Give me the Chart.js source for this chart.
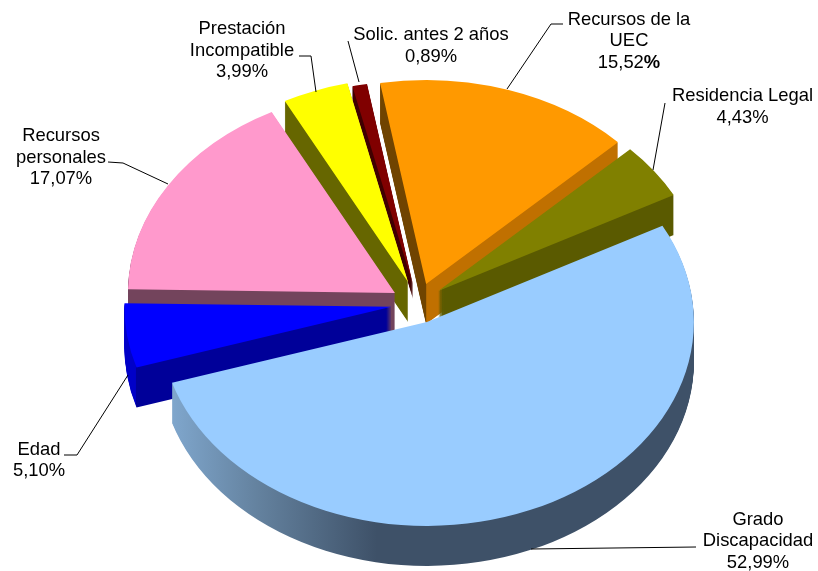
<!DOCTYPE html>
<html>
<head>
<meta charset="utf-8">
<style>html,body{margin:0;padding:0;background:#fff}canvas{display:block}</style>
<script src="https://cdn.jsdelivr.net/npm/chart.js@4"></script>
</head>
<body>
<canvas id="c" width="818" height="571"></canvas>
<script>
const categories = ['Grado Discapacidad','Edad','Recursos personales','Prestación Incompatible','Solic. antes 2 años','Recursos de la UEC','Residencia Legal'];
const values = [52.99,5.10,17.07,3.99,0.89,15.52,4.43];
const valueLabels = ['52,99%','5,10%','17,07%','3,99%','0,89%','15,52%','4,43%'];
const topColors = ['#99CCFF','#0000FF','#FF99CC','#FFFF00','#800000','#FF9900','#808000'];
const explode = [29,22.8,22.4,26.6,24.8,26.2,28.7];
const nudgeX = [1.7,0,0,3.3,4,4,1];
const nudgeY = [-0.5,2.4,0,-1,1.5,1,2];
const wallDepth = [40,40,40,40,14,40,40];
const drawOrder = [4,3,5,6,2,1,0];
const wallStops = [
  [[-254,'#7FA6CC'],[-170,'#64829F'],[-50,'#3E5168'],[270,'#3E5168']],
  [[-268,'#0000C8'],[-256,'#0000C8'],[-255,'#000099'],[10,'#000099']],
  [[-270,'#73445C'],[10,'#73445C']],
  [[-130,'#666600'],[10,'#666600']],
  [[-70,'#400000'],[10,'#400000']],
  [[-60,'#704400'],[0,'#704400'],[0.5,'#C07000'],[200,'#C07000']],
  [[-10,'#5A5A00'],[240,'#5A5A00']]
];
const labelLines = [
  ['Grado','Discapacidad'],['Edad'],['Recursos','personales'],['Prestación','Incompatible'],['Solic. antes 2 años'],['Recursos de la','UEC'],['Residencia Legal']
];
const labelCenterX = [758,39,61,242,431,629,742.5];
const labelTopY = [519.5,449.5,136,29,35,19.5,96];
const labelStep = 21.7;
const boldPercent = [false,false,false,false,false,true,false];
const leaders = [
  [[531,549],[696,547]],
  [[128,375],[77,455],[64,455]],
  [[108,162],[123,163],[168,184]],
  [[299,56],[311,56],[316,92]],
  [[348,41],[359,82]],
  [[507,89],[551,24],[563,24]],
  [[665,103],[653,170]]
];
const flatten = 0.764;

const pie3d = {
  id:'pie3d',
  beforeDatasetDraw(chart){
    const ctx = chart.ctx, meta = chart.getDatasetMeta(0);
    const place = (el,i,dy) => {
      const mid = (el.startAngle+el.endAngle)/2;
      ctx.translate(nudgeX[i], nudgeY[i]+dy);
      ctx.translate(el.x, el.y); ctx.scale(1,flatten); ctx.translate(-el.x,-el.y);
      ctx.translate(Math.cos(mid)*explode[i], Math.sin(mid)*explode[i]);
    };
    drawOrder.forEach(i => {
      const el = meta.data[i], saved = el.options;
      const g = ctx.createLinearGradient(el.x+wallStops[i][0][0],0,el.x+wallStops[i][wallStops[i].length-1][0],0);
      const a = wallStops[i][0][0], b = wallStops[i][wallStops[i].length-1][0];
      wallStops[i].forEach(s => g.addColorStop((s[0]-a)/(b-a), s[1]));
      el.options = Object.assign({}, saved, {backgroundColor:g, borderWidth:0});
      for (let d=wallDepth[i]; d>=1; d--) { ctx.save(); place(el,i,d); el.draw(ctx); ctx.restore(); }
      el.options = Object.assign({}, saved, {borderWidth:0});
      ctx.save(); place(el,i,0); el.draw(ctx); ctx.restore();
      el.options = saved;
    });
    return false;
  },
  afterDraw(chart){
    const ctx = chart.ctx;
    ctx.save();
    ctx.strokeStyle='#000'; ctx.lineWidth=1;
    leaders.forEach(l => {
      ctx.beginPath();
      l.forEach((p,j) => j ? ctx.lineTo(p[0],p[1]) : ctx.moveTo(p[0],p[1]));
      ctx.stroke();
    });
    ctx.fillStyle='#000'; ctx.textBaseline='middle';
    const normal='18.4px "Liberation Sans"', bold='bold 18.4px "Liberation Sans"';
    categories.forEach((c,i) => {
      const x=labelCenterX[i]; let y=labelTopY[i];
      ctx.font=normal; ctx.textAlign='center';
      labelLines[i].forEach(t => { ctx.fillText(t,x,y); y+=labelStep; });
      if (boldPercent[i]) {
        const num=valueLabels[i].slice(0,-1);
        const w1=ctx.measureText(num).width; ctx.font=bold; const w2=ctx.measureText('%').width;
        ctx.textAlign='left';
        ctx.font=normal; ctx.fillText(num,x-(w1+w2)/2,y);
        ctx.font=bold; ctx.fillText('%',x-(w1+w2)/2+w1,y);
      } else ctx.fillText(valueLabels[i],x,y);
    });
    ctx.restore();
  }
};

new Chart(document.getElementById('c'),{
  type:'pie',
  data:{labels:categories,datasets:[{data:values,backgroundColor:topColors,borderWidth:0,radius:267}]},
  options:{
    responsive:false,animation:false,rotation:61.9,
    layout:{padding:{left:10,right:0,top:33,bottom:0}},
    plugins:{legend:{display:false},tooltip:{enabled:false}}
  },
  plugins:[pie3d]
});
</script>
</body>
</html>
